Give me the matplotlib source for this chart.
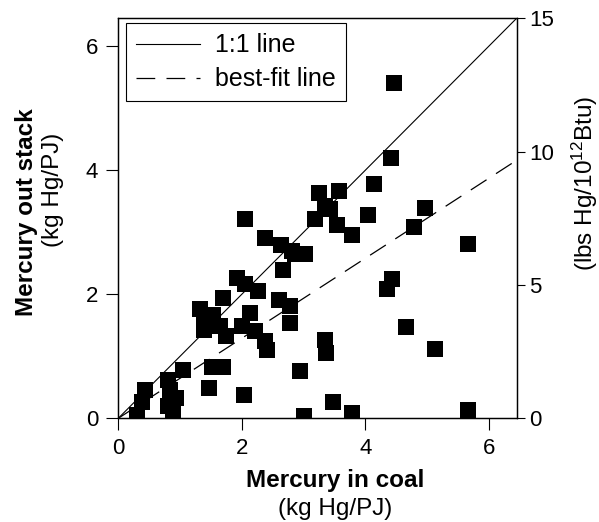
import matplotlib
matplotlib.use("Agg")
import matplotlib.pyplot as plt

matplotlib.rcParams.update({
    "font.family": "Liberation Sans",
    "font.size": 17.5,
    "xtick.labelsize": 16,
    "ytick.labelsize": 16,
    "legend.fontsize": 18,
    "mathtext.fontset": "custom",
    "mathtext.rm": "Liberation Sans",
    "mathtext.default": "regular",
})

# mercury in coal vs mercury out of stack, kg Hg/PJ
hg_coal = [
    0.30, 0.38, 0.43, 0.81, 0.89, 0.94, 0.84, 0.81, 1.05, 1.47, 1.51, 1.70,
    2.04, 1.32, 1.38, 1.38, 1.54, 1.65, 1.75, 1.70, 1.92, 2.05, 2.27, 2.00,
    2.13, 2.21, 2.37, 2.40, 2.05, 2.37, 2.64, 2.81, 2.67, 2.86, 3.02, 2.60,
    2.78, 2.78, 2.94, 3.01, 3.35, 3.37, 3.48, 3.79, 3.25, 3.58, 3.34, 3.43,
    3.18, 3.54, 3.79, 4.05, 4.14, 4.41, 4.47, 4.96, 4.78, 5.67, 4.43, 4.35,
    4.66, 5.12, 5.66,
]
hg_stack = [
    0.05, 0.27, 0.46, 0.19, 0.08, 0.32, 0.45, 0.62, 0.78, 0.49, 0.83, 0.83,
    0.38, 1.76, 1.59, 1.43, 1.66, 1.48, 1.32, 1.94, 2.27, 2.16, 2.06, 1.48,
    1.70, 1.40, 1.24, 1.10, 3.22, 2.90, 2.80, 2.70, 2.39, 2.65, 2.65, 1.91,
    1.81, 1.54, 0.77, 0.04, 1.27, 1.06, 0.26, 0.09, 3.63, 3.66, 3.42, 3.37,
    3.21, 3.11, 2.95, 3.27, 3.78, 4.19, 5.41, 3.39, 3.08, 2.81, 2.24, 2.08,
    1.47, 1.11, 0.13,
]

fit_slope = 0.645
fit_x = [0.0, 6.4]
one_to_one = [0.0, 6.45]

ax_max = 6.45
lbs_max = 15  # lbs Hg / 10^12 Btu at the top of the axis
left_ticks = [0, 2, 4, 6]
right_ticks = [0, 5, 10, 15]

fig = plt.figure(figsize=(5.99, 5.22), dpi=100)
ax = fig.add_axes([0.1975, 0.1987, 0.665, 0.7663])

ax.plot(one_to_one, one_to_one, color="black", linewidth=0.8, label="1:1 line")
ax.plot(fit_x, [fit_slope * v for v in fit_x], color="black", linewidth=0.9,
        dashes=(15, 9), label="best-fit line")
ax.scatter(hg_coal, hg_stack, marker="s", s=137, color="black", linewidths=0,
           zorder=5)

ax.set_xlim(0, ax_max)
ax.set_ylim(0, ax_max)
ax.set_xticks(left_ticks)
ax.set_yticks(left_ticks)
ax.tick_params(axis="x", direction="out", length=8.5, width=0.8, pad=6)
ax.tick_params(axis="y", direction="out", length=8.5, width=0.8, pad=6)

ax2 = ax.twinx()
ax2.set_ylim(0, lbs_max)
ax2.set_yticks(right_ticks)
ax2.tick_params(axis="y", direction="out", length=6, width=0.8, pad=3)

for a in (ax, ax2):
    for sp in a.spines.values():
        sp.set_linewidth(0.9)

leg = ax.legend(loc="upper left", bbox_to_anchor=(7.7 / 398.4, 1 - 5 / 400),
                borderaxespad=0, fancybox=False, edgecolor="black",
                framealpha=1, handlelength=2.55, labelspacing=0.4,
                handletextpad=0.6, borderpad=0.4)
leg.get_frame().set_linewidth(0.8)

W, H = 599, 522
fig.text(335 / W, 1 - 481 / H, "Mercury in coal", fontweight="bold",
         ha="center", va="center")
fig.text(335 / W, 1 - 509 / H, "(kg Hg/PJ)", ha="center", va="center")
fig.text(27 / W, 1 - 212 / H, "Mercury out stack", fontweight="bold",
         rotation=90, ha="center", va="center")
fig.text(53 / W, 1 - 190 / H, "(kg Hg/PJ)", rotation=90, ha="center",
         va="center")
fig.text(585 / W, 1 - 183 / H, r"(lbs Hg/10$^{12}$Btu)", rotation=90,
         ha="center", va="center")

fig.savefig("out.png", dpi=100)
